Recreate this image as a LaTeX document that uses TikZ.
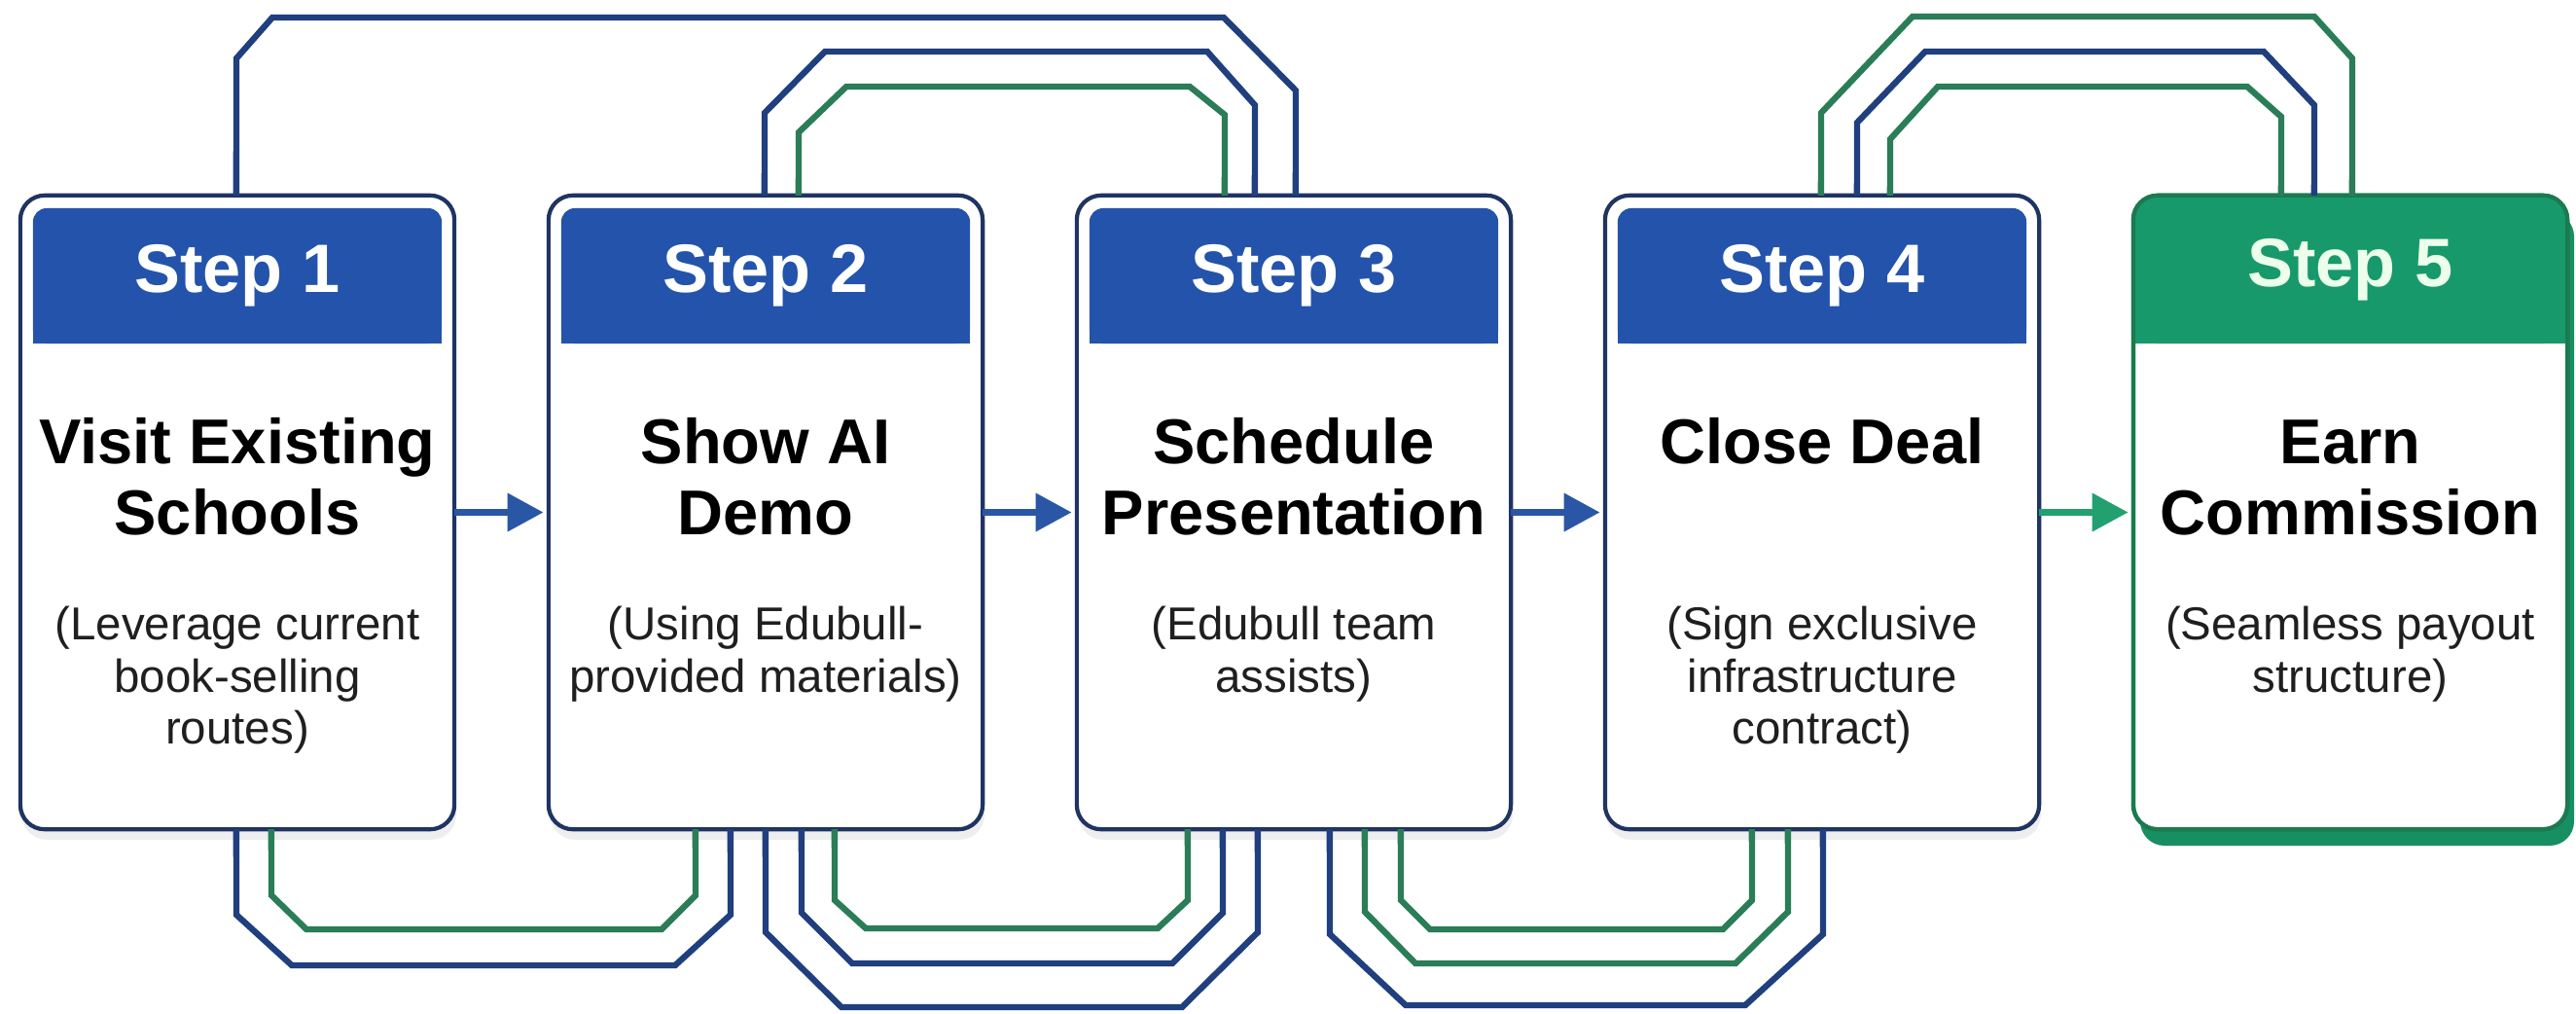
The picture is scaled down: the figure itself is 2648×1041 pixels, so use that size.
\documentclass[tikz,border=0pt]{standalone}
\usepackage{fontspec}
\setmainfont{Liberation Sans}
\usetikzlibrary{arrows.meta,calc,shadows}
\definecolor{hdrblue}{HTML}{2453AB}
\definecolor{navy}{HTML}{1F3462}
\definecolor{linkblue}{HTML}{1F3F7E}
\definecolor{linkgreen}{HTML}{2A7D57}
\definecolor{hdrgreen}{HTML}{18996B}
\definecolor{boxgreen}{HTML}{1B7A50}
\definecolor{arrblue}{HTML}{2A56A6}
\definecolor{arrgreen}{HTML}{22A070}
\definecolor{shgreen}{HTML}{178F62}
\begin{document}
\begin{tikzpicture}[x=0.01cm,y=-0.01cm,
  stepbox/.style={draw=navy, line width=1.2pt, fill=white, rounded corners=0.25cm,
    minimum width=4.46cm, minimum height=6.51cm, inner sep=0pt, outer sep=0pt,
    drop shadow={shadow xshift=0.5pt, shadow yshift=-3pt, opacity=0.13}},
  greenbox/.style={draw=boxgreen, line width=1.2pt, fill=white, rounded corners=0.25cm,
    minimum width=4.46cm, minimum height=6.51cm, inner sep=0pt, outer sep=0pt},
  hdr/.style={fill=hdrblue, rounded corners=0.14cm, minimum width=4.20cm,
    minimum height=1.39cm, inner sep=0pt, text=white,
    font=\fontsize{20}{24}\selectfont\bfseries},
  hdrg/.style={fill=hdrgreen, rounded corners=0.25cm, minimum width=4.46cm,
    minimum height=1.52cm, inner sep=0pt, text={white!92!green},
    font=\fontsize{20}{24}\selectfont\bfseries},
  ttl/.style={font=\fontsize{18.5}{22}\selectfont\bfseries, anchor=base, inner sep=0pt, text=black},
  sub/.style={font=\fontsize{13.5}{16}\selectfont, anchor=base, inner sep=0pt, text=black!88},
  conb/.style={draw=linkblue, line width=1.8pt},
  cong/.style={draw=linkgreen, line width=1.8pt},
  arrb/.style={draw=arrblue, line width=2pt, -{Triangle[length=10.5pt,width=10.8pt]}, shorten >=1.5pt},
  arrg/.style={draw=arrgreen, line width=2pt, -{Triangle[length=10.5pt,width=10.8pt]}, shorten >=1.5pt}
]
\useasboundingbox (0,0) rectangle (2648,1041);
\fill[white] (0,0) rectangle (2648,1041);

% boxes
\node[stepbox] (b1) at (244,526.5) {};
\node[stepbox] (b2) at (787,526.5) {};
\node[stepbox] (b3) at (1330,526.5) {};
\node[stepbox] (b4) at (1873,526.5) {};
\fill[shgreen, rounded corners=0.25cm] (2200,218) rectangle (2646,869);
\node[greenbox] (b5) at (2416,526.5) {};

% headers
\fill[hdrblue] (34,300) rectangle (454,353);
\node[hdr] (h1) at (244,283.5) {Step 1};
\fill[hdrblue] (577,300) rectangle (997,353);
\node[hdr] (h2) at (787,283.5) {Step 2};
\fill[hdrblue] (1120,300) rectangle (1540,353);
\node[hdr] (h3) at (1330,283.5) {Step 3};
\fill[hdrblue] (1663,300) rectangle (2083,353);
\node[hdr] (h4) at (1873,283.5) {Step 4};
\fill[hdrgreen] (2193,300) rectangle (2639,353);
\node[hdrg] (h5) at (2416,277) {Step 5};
\draw[boxgreen, line width=1.2pt, rounded corners=0.25cm] (b5.north west) rectangle (b5.south east);

% titles
\node[ttl] (t1a) at (244,476) {Visit Existing};
\node[ttl] (t1b) at (244,549) {Schools};
\node[ttl] (t2a) at (787,476) {Show AI};
\node[ttl] (t2b) at (787,549) {Demo};
\node[ttl] (t3a) at (1330,476) {Schedule};
\node[ttl] (t3b) at (1330,549) {Presentation};
\node[ttl] (t4a) at (1873,476) {Close Deal};
\node[ttl] (t5a) at (2416,476) {Earn};
\node[ttl] (t5b) at (2416,549) {Commission};

% subtitles
\node[sub] (s1a) at (244,657) {(Leverage current};
\node[sub] (s1b) at (244,711) {book-selling};
\node[sub] (s1c) at (244,764) {routes)};
\node[sub] (s2a) at (787,657) {(Using Edubull-};
\node[sub] (s2b) at (787,711) {provided materials)};
\node[sub] (s3a) at (1330,657) {(Edubull team};
\node[sub] (s3b) at (1330,711) {assists)};
\node[sub] (s4a) at (1873,657) {(Sign exclusive};
\node[sub] (s4b) at (1873,711) {infrastructure};
\node[sub] (s4c) at (1873,764) {contract)};
\node[sub] (s5a) at (2416,657) {(Seamless payout};
\node[sub] (s5b) at (2416,711) {structure)};

% arrows
\draw[arrb] (b1.east) -- (b2.west);
\draw[arrb] (b2.east) -- (b3.west);
\draw[arrb] (b3.east) -- (b4.west);
\draw[arrg] (b4.east) -- (b5.west);

% top connectors
\draw[conb] ($(b1.north west)+(222,0)$) -- (243,60) -- (280,18) -- (1258,18) -- (1332,93) -- ($(b3.north west)+(225,0)$);
\draw[conb] ($(b2.north west)+(222,0)$) -- (786,116) -- (848,53) -- (1241,53) -- (1290,108) -- ($(b3.north west)+(183,0)$);
\draw[cong] ($(b2.north west)+(257,0)$) -- (821,136) -- (870,89) -- (1223,89) -- (1259,118) -- ($(b3.north west)+(152,0)$);
\draw[cong] ($(b4.north west)+(222,0)$) -- (1872,116) -- (1966,17) -- (2379,17) -- (2418,60) -- ($(b5.north west)+(225,0)$);
\draw[conb] ($(b4.north west)+(259,0)$) -- (1909,126) -- (1979,53) -- (2327,53) -- (2379,108) -- ($(b5.north west)+(186,0)$);
\draw[cong] ($(b4.north west)+(293,0)$) -- (1943,143) -- (1992,89) -- (2310,89) -- (2345,120) -- ($(b5.north west)+(152,0)$);

% bottom connectors
\draw[conb] ($(b1.south west)+(222,0)$) -- (243,940) -- (300,992) -- (694,992) -- (751,940) -- ($(b2.south west)+(187,0)$);
\draw[cong] ($(b1.south west)+(258,0)$) -- (279,920) -- (315,955) -- (680,955) -- (715,920) -- ($(b2.south west)+(151,0)$);
\draw[conb] ($(b2.south west)+(223,0)$) -- (787,958) -- (865,1035) -- (1215,1035) -- (1293,958) -- ($(b3.south west)+(186,0)$);
\draw[conb] ($(b2.south west)+(260,0)$) -- (824,938) -- (876,990) -- (1205,990) -- (1257,938) -- ($(b3.south west)+(150,0)$);
\draw[cong] ($(b2.south west)+(294,0)$) -- (858,925) -- (890,954) -- (1190,954) -- (1221,925) -- ($(b3.south west)+(114,0)$);
\draw[conb] ($(b3.south west)+(260,0)$) -- (1367,960) -- (1445,1033) -- (1794,1033) -- (1874,960) -- ($(b4.south west)+(224,0)$);
\draw[cong] ($(b3.south west)+(296,0)$) -- (1403,937) -- (1455,990) -- (1784,990) -- (1838,937) -- ($(b4.south west)+(188,0)$);
\draw[cong] ($(b3.south west)+(333,0)$) -- (1440,925) -- (1470,955) -- (1771,955) -- (1801,925) -- ($(b4.south west)+(151,0)$);
\end{tikzpicture}
\end{document}
